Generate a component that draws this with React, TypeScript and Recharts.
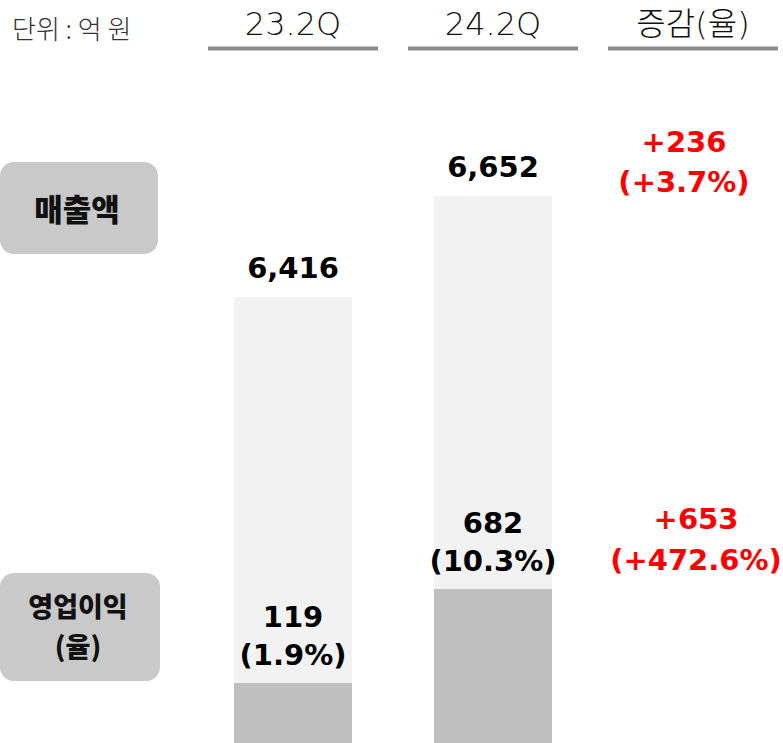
import React from "react";
import { BarChart, Bar, XAxis, YAxis, Cell, LabelList } from "recharts";

// ---- data ----
const unitLabel = "단위 : 억 원";
const revenueRowLabel = ["매출액"];
const profitRowLabel = ["영업이익", "(율)"];
const periods = ["23.2Q", "24.2Q"];
const revenue = [6416, 6652];
const operatingProfit = [119, 682];
const operatingMargin = ["1.9%", "10.3%"];
const changeHeader = "증감(율)";
const revenueChange = ["+236", "+3.7%"];
const profitChange = ["+653", "+472.6%"];

// axis ranges (the source chart does not start its bars at zero)
const REVENUE_DOMAIN: [number, number] = [5374, 6970];
const PROFIT_DOMAIN: [number, number] = [-240, 3850];

type Row = {
  category: string;
  kind: "blank" | "period" | "change";
  revenue: number | null;
  profit: number | null;
  idx: number;
  rowIndex: number;
};

const baseRows = [
  { category: "", kind: "blank" as const, revenue: null, profit: null, idx: -1 },
  ...periods.map((p, i) => ({
    category: p,
    kind: "period" as const,
    revenue: revenue[i],
    profit: operatingProfit[i],
    idx: i,
  })),
  {
    category: changeHeader,
    kind: "change" as const,
    revenue: revenue[revenue.length - 1],
    profit: operatingProfit[operatingProfit.length - 1],
    idx: -1,
  },
];
const rows: Row[] = baseRows.map((r, i) => ({ ...r, rowIndex: i }));

const LATIN = "'DejaVu Sans', 'Noto Sans CJK KR', sans-serif";
const CJK = "'Noto Sans CJK KR', sans-serif";
const RED = "#ff0000";

const fmt = (v: number) => v.toLocaleString("en-US");

const HeaderTick = (props: any) => {
  const { x, payload } = props;
  if (!payload || !payload.value) return null;
  const cx = Number(x);
  return (
    <g>
      <text
        x={cx}
        y={35}
        textAnchor="middle"
        fontFamily={LATIN}
        fontWeight={200}
        fontSize={32}
        fill="#111"
      >
        {payload.value}
      </text>
      <line x1={cx - 85} x2={cx + 85} y1={48.5} y2={48.5} stroke="#8a8a8a" strokeWidth={4} />
    </g>
  );
};

const revenueLabel = (props: any) => {
  const { x, y, width, value } = props;
  const row = rows[Number(value)];
  if (!row || row.revenue == null || row.kind === "blank") return null;
  const cx = Number(x) + Number(width) / 2;
  const top = Number(y);
  if (row.kind === "period") {
    return (
      <text x={cx} y={top - 19} textAnchor="middle" fontFamily={LATIN} fontWeight={700} fontSize={29} fill="#000">
        {fmt(row.revenue)}
      </text>
    );
  }
  return (
    <text textAnchor="middle" fontFamily={LATIN} fontWeight={700} fontSize={29} fill={RED}>
      <tspan x={cx - 9} y={top - 44}>{revenueChange[0]}</tspan>
      <tspan x={cx - 9} y={top - 4}>({revenueChange[1]})</tspan>
    </text>
  );
};

const profitLabel = (props: any) => {
  const { x, y, width, value } = props;
  const row = rows[Number(value)];
  if (!row || row.profit == null || row.kind === "blank") return null;
  const cx = Number(x) + Number(width) / 2;
  const top = Number(y);
  if (row.kind === "period") {
    return (
      <text textAnchor="middle" fontFamily={LATIN} fontWeight={700} fontSize={29} fill="#000">
        <tspan x={cx} y={top - 56}>{fmt(row.profit)}</tspan>
        <tspan x={cx} y={top - 18}>({operatingMargin[row.idx]})</tspan>
      </text>
    );
  }
  return (
    <text textAnchor="middle" fontFamily={LATIN} fontWeight={700} fontSize={29} fill={RED}>
      <tspan x={cx + 3} y={top - 60}>{profitChange[0]}</tspan>
      <tspan x={cx + 3} y={top - 19}>({profitChange[1]})</tspan>
    </text>
  );
};

export default function App() {
  return (
    <div
      style={{
        position: "absolute",
        left: 0,
        top: 0,
        width: 783,
        height: 743,
        overflow: "hidden",
        background: "#fff",
      }}
    >
      <div style={{ position: "absolute", left: -7, top: 0 }}>
        <BarChart
          width={800}
          height={743}
          data={rows}
          margin={{ top: 0, right: 0, bottom: 0, left: 0 }}
        >
          <XAxis
            xAxisId="rev"
            dataKey="category"
            orientation="top"
            height={60}
            axisLine={false}
            tickLine={false}
            interval={0}
            tick={<HeaderTick />}
          />
          <XAxis xAxisId="prof" dataKey="category" hide />
          <YAxis yAxisId="rev" type="number" hide domain={REVENUE_DOMAIN} allowDataOverflow />
          <YAxis yAxisId="prof" type="number" hide domain={PROFIT_DOMAIN} allowDataOverflow />
          <Bar
            xAxisId="rev"
            yAxisId="rev"
            dataKey="revenue"
            barSize={118}
            isAnimationActive={false}
          >
            {rows.map((r, i) => (
              <Cell key={i} fill={r.kind === "period" ? "#f2f2f2" : "transparent"} />
            ))}
            <LabelList dataKey="rowIndex" content={revenueLabel} />
          </Bar>
          <Bar
            xAxisId="prof"
            yAxisId="prof"
            dataKey={(d: Row) => (d.profit == null ? null : [PROFIT_DOMAIN[0], d.profit])}
            barSize={118}
            isAnimationActive={false}
          >
            {rows.map((r, i) => (
              <Cell key={i} fill={r.kind === "period" ? "#bfbfbf" : "transparent"} />
            ))}
            <LabelList dataKey="rowIndex" content={profitLabel} />
          </Bar>
        </BarChart>
      </div>
      <svg
        width={783}
        height={743}
        style={{ position: "absolute", left: 0, top: 0, pointerEvents: "none" }}
      >
        <text
          x={12}
          y={27}
          dominantBaseline="central"
          fontFamily={CJK}
          fontWeight={300}
          fontSize={26}
          fill="#333"
        >
          {unitLabel}
        </text>
        <rect x={0} y={162} width={158} height={92} rx={14} fill="#c9c9c9" />
        <text
          x={77}
          y={207}
          textAnchor="middle"
          dominantBaseline="central"
          fontFamily={CJK}
          fontWeight={900}
          fontSize={31}
          fill="#111"
        >
          {revenueRowLabel[0]}
        </text>
        <rect x={0} y={573} width={160} height={108} rx={14} fill="#c9c9c9" />
        <text
          textAnchor="middle"
          fontFamily={CJK}
          fontWeight={900}
          fontSize={27}
          fill="#111"
        >
          <tspan x={78} y={617}>{profitRowLabel[0]}</tspan>
          <tspan x={78} y={657}>{profitRowLabel[1]}</tspan>
        </text>
      </svg>
    </div>
  );
}
